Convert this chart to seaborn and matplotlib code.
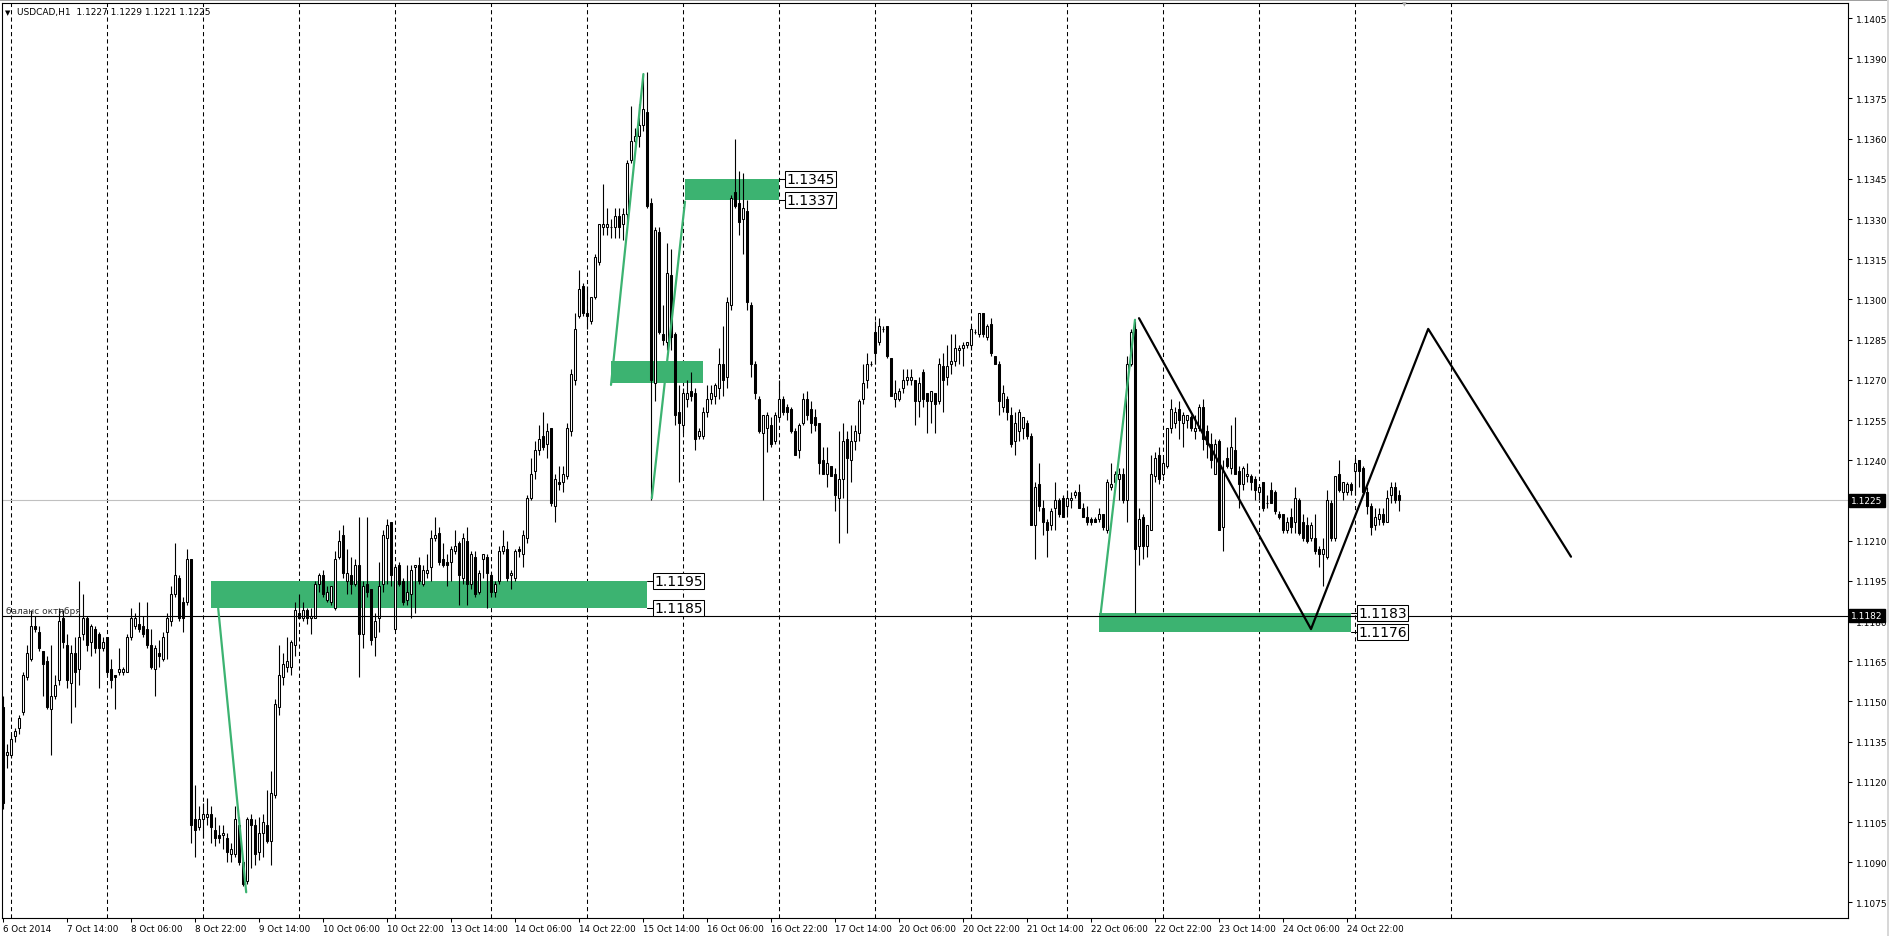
import numpy as np
import matplotlib
matplotlib.use("Agg")
import matplotlib.pyplot as plt
from matplotlib.patches import Rectangle
import seaborn as sns

# USDCAD H1 candles, prices in pips above 1.1000 (bar 0 = 6 Oct 22:00)
opens = [
    148, 130, 130, 137, 140, 146, 159, 166, 178, 176,
    169, 165, 147, 152, 158, 181, 171, 157, 168, 162,
    175, 181, 172, 177, 175, 170, 174, 162, 160, 161,
    161, 161, 174, 178, 179, 178, 177, 171, 162, 168,
    166, 176, 180, 190, 196, 187, 187, 203, 106, 103,
    106, 107, 108, 102, 100, 100, 99, 93, 93, 104,
    90, 83, 106, 104, 94, 101, 104, 98, 115, 148,
    159, 163, 163, 171, 183, 181, 184, 181, 181, 194,
    197, 188, 187, 185, 204, 212, 195, 197, 194, 201,
    175, 194, 192, 174, 181, 194, 211, 217, 177, 201,
    195, 188, 190, 200, 201, 194, 198, 200, 211, 213,
    203, 202, 202, 206, 209, 196, 210, 194, 204, 191,
    203, 204, 197, 191, 195, 206, 207, 197, 196, 207,
    205, 211, 226, 236, 244, 249, 246, 252, 223, 232,
    232, 234, 251, 270, 294, 305, 295, 292, 301, 314,
    327, 327, 327, 327, 331, 328, 332, 352, 359, 361,
    365, 370, 336, 269, 325, 287, 284, 309, 287, 258,
    253, 263, 266, 265, 249, 249, 258, 263, 264, 267,
    276, 271, 298, 340, 336, 330, 333, 298, 276, 263,
    250, 252, 253, 247, 256, 263, 260, 259, 251, 244,
    254, 263, 259, 256, 254, 240, 235, 238, 235, 226,
    233, 248, 240, 247, 250, 263, 270, 276, 288, 284,
    289, 290, 278, 263, 263, 267, 270, 270, 270, 262,
    273, 265, 262, 265, 262, 275, 271, 276, 277, 281,
    282, 283, 283, 288, 287, 295, 286, 291, 279, 276,
    260, 263, 257, 247, 251, 252, 254, 249, 216, 231,
    222, 217, 216, 222, 225, 226, 223, 225, 227, 228,
    222, 219, 218, 218, 218, 220, 214, 230, 232, 233,
    235, 225, 276, 289, 208, 219, 208, 214, 234, 242,
    235, 238, 252, 254, 259, 254, 255, 256, 251, 252,
    260, 251, 246, 235, 247, 215, 241, 237, 244, 236,
    231, 234, 234, 233, 228, 232, 224, 229, 228, 220,
    220, 214, 219, 217, 225, 217, 216, 211, 211, 207,
    205, 204, 224, 211, 235, 228, 228, 231, 236, 240,
    237, 228, 223, 216, 218, 220, 217, 227, 230, 227,
]
highs = [
    152, 134, 138, 140, 145, 161, 171, 184, 182, 178,
    169, 167, 171, 160, 185, 184, 175, 171, 174, 195,
    190, 182, 179, 178, 176, 174, 174, 166, 160, 170,
    163, 175, 185, 183, 187, 182, 187, 177, 171, 173,
    176, 183, 193, 209, 197, 189, 207, 203, 119, 111,
    112, 114, 111, 107, 104, 104, 101, 97, 111, 107,
    91, 107, 108, 106, 107, 108, 117, 124, 151, 171,
    168, 174, 173, 187, 190, 187, 185, 185, 195, 198,
    199, 193, 193, 206, 214, 216, 207, 204, 203, 219,
    195, 219, 192, 183, 202, 214, 218, 217, 201, 202,
    196, 201, 201, 201, 204, 201, 205, 214, 219, 215,
    209, 205, 208, 214, 210, 213, 215, 206, 206, 199,
    205, 205, 198, 195, 208, 214, 210, 199, 207, 208,
    214, 227, 241, 247, 253, 258, 254, 252, 235, 238,
    238, 254, 274, 295, 311, 306, 305, 301, 317, 328,
    343, 334, 330, 334, 334, 334, 352, 372, 364, 373,
    384, 385, 338, 327, 327, 298, 321, 319, 288, 268,
    267, 270, 273, 267, 252, 260, 268, 268, 269, 282,
    290, 301, 339, 360, 348, 347, 337, 299, 277, 264,
    257, 258, 256, 258, 270, 264, 261, 260, 252, 254,
    265, 266, 262, 259, 254, 245, 245, 238, 237, 251,
    254, 251, 253, 253, 263, 276, 280, 277, 292, 293,
    290, 290, 278, 270, 267, 274, 274, 274, 270, 271,
    274, 265, 266, 265, 278, 280, 283, 287, 287, 283,
    284, 284, 290, 289, 295, 295, 291, 293, 279, 277,
    268, 264, 260, 258, 259, 256, 255, 250, 232, 239,
    225, 218, 222, 232, 226, 227, 229, 228, 229, 231,
    224, 223, 219, 219, 222, 220, 233, 239, 236, 237,
    237, 279, 289, 292, 222, 220, 216, 242, 243, 245,
    241, 252, 263, 260, 262, 258, 257, 257, 257, 261,
    263, 253, 250, 248, 248, 240, 245, 253, 256, 238,
    238, 239, 235, 234, 231, 232, 227, 232, 229, 221,
    220, 219, 222, 230, 226, 220, 219, 217, 220, 208,
    211, 229, 225, 234, 240, 232, 232, 232, 241, 240,
    238, 230, 224, 222, 222, 222, 229, 232, 232, 229,
]
lows = [
    110, 125, 129, 135, 138, 145, 158, 165, 176, 169,
    152, 147, 130, 151, 156, 170, 155, 142, 148, 156,
    173, 169, 167, 168, 155, 169, 160, 155, 147, 160,
    160, 161, 173, 177, 176, 174, 170, 162, 152, 163,
    165, 166, 178, 189, 180, 176, 186, 97, 92, 102,
    99, 104, 97, 96, 97, 95, 90, 90, 92, 89,
    81, 82, 88, 89, 91, 92, 97, 89, 114, 145,
    156, 161, 160, 167, 181, 180, 179, 175, 181, 191,
    189, 187, 186, 184, 203, 196, 190, 190, 193, 159,
    170, 189, 171, 167, 176, 191, 194, 193, 177, 193,
    186, 186, 181, 183, 194, 193, 196, 195, 210, 201,
    200, 193, 195, 205, 186, 194, 186, 192, 189, 190,
    196, 185, 189, 189, 194, 205, 195, 192, 195, 204,
    200, 209, 225, 233, 242, 244, 241, 223, 217, 229,
    228, 233, 249, 268, 293, 294, 289, 291, 300, 313,
    324, 324, 323, 323, 323, 322, 329, 351, 357, 357,
    363, 334, 225, 262, 287, 283, 281, 281, 253, 232,
    250, 260, 262, 244, 248, 248, 256, 261, 261, 263,
    264, 267, 296, 334, 324, 317, 296, 271, 263, 250,
    225, 243, 245, 246, 255, 257, 255, 250, 242, 241,
    253, 255, 250, 251, 235, 235, 230, 234, 221, 209,
    226, 213, 232, 244, 247, 261, 267, 275, 276, 283,
    288, 278, 264, 260, 262, 265, 268, 268, 253, 256,
    260, 250, 254, 250, 261, 258, 268, 272, 275, 276,
    275, 282, 281, 287, 286, 286, 285, 279, 276, 257,
    258, 255, 245, 242, 247, 248, 248, 216, 203, 221,
    212, 204, 214, 214, 219, 219, 220, 222, 226, 222,
    219, 216, 216, 217, 217, 214, 213, 229, 230, 225,
    224, 217, 275, 183, 201, 203, 204, 214, 232, 231,
    234, 237, 250, 252, 248, 245, 252, 251, 248, 251,
    244, 241, 237, 235, 214, 206, 237, 235, 235, 222,
    229, 232, 229, 225, 225, 221, 222, 224, 220, 218,
    213, 213, 213, 213, 212, 210, 209, 210, 205, 200,
    193, 203, 210, 210, 228, 225, 227, 227, 227, 230,
    227, 220, 212, 214, 216, 216, 217, 224, 224, 221,
]
closes = [
    112, 131, 136, 139, 144, 160, 168, 178, 177, 170,
    164, 148, 152, 156, 180, 172, 158, 168, 161, 174,
    181, 171, 178, 170, 170, 172, 161, 158, 159, 162,
    162, 174, 181, 181, 177, 175, 171, 163, 170, 167,
    174, 181, 190, 197, 181, 181, 203, 104, 102, 106,
    108, 108, 103, 99, 99, 101, 94, 95, 106, 90,
    82, 106, 104, 93, 101, 105, 98, 116, 149, 160,
    164, 165, 172, 184, 181, 184, 181, 182, 194, 197,
    190, 191, 193, 203, 210, 198, 198, 194, 201, 175,
    193, 191, 173, 180, 193, 212, 216, 197, 200, 194,
    187, 191, 199, 201, 195, 199, 199, 211, 212, 202,
    201, 201, 207, 208, 197, 211, 194, 205, 190, 198,
    205, 198, 191, 194, 206, 208, 196, 198, 206, 206,
    212, 226, 235, 244, 248, 245, 251, 224, 233, 231,
    235, 252, 272, 289, 304, 295, 294, 301, 316, 328,
    328, 328, 327, 331, 327, 332, 351, 359, 361, 365,
    371, 335, 270, 326, 288, 285, 310, 286, 257, 254,
    265, 265, 264, 248, 251, 258, 263, 265, 268, 276,
    270, 299, 338, 335, 329, 334, 299, 276, 265, 251,
    257, 257, 246, 257, 263, 258, 258, 251, 242, 253,
    263, 257, 254, 253, 239, 235, 239, 234, 227, 233,
    247, 241, 247, 251, 262, 269, 276, 276, 280, 290,
    289, 279, 264, 265, 266, 270, 271, 271, 262, 269,
    263, 262, 266, 261, 276, 270, 275, 277, 282, 282,
    283, 284, 289, 288, 295, 287, 290, 280, 276, 262,
    265, 258, 246, 254, 258, 256, 249, 216, 230, 223,
    217, 214, 221, 225, 220, 219, 226, 226, 228, 222,
    219, 217, 217, 217, 220, 215, 232, 231, 235, 235,
    225, 276, 288, 207, 218, 208, 216, 235, 241, 233,
    239, 252, 259, 258, 255, 257, 257, 252, 252, 260,
    248, 246, 240, 246, 214, 236, 238, 245, 235, 231,
    237, 235, 232, 229, 230, 222, 224, 224, 221, 219,
    214, 217, 215, 226, 213, 211, 210, 216, 206, 205,
    207, 225, 211, 234, 229, 232, 231, 229, 239, 236,
    228, 223, 215, 219, 220, 217, 226, 230, 225, 225,
]

# first bar of each trading day (period separators)
day_start_bars = [2, 26, 50, 74, 98, 122, 146, 170, 194, 218, 242, 266, 290, 314, 338, 362]

xtick_bars = [0, 16, 32, 48, 64, 80, 96, 112, 128, 144, 160, 176, 192, 208, 224,
              240, 256, 272, 288, 304, 320, 336]
xtick_labels = ["6 Oct 2014", "7 Oct 14:00", "8 Oct 06:00", "8 Oct 22:00", "9 Oct 14:00",
                "10 Oct 06:00", "10 Oct 22:00", "13 Oct 14:00", "14 Oct 06:00", "14 Oct 22:00",
                "15 Oct 14:00", "16 Oct 06:00", "16 Oct 22:00", "17 Oct 14:00", "20 Oct 06:00",
                "20 Oct 22:00", "21 Oct 14:00", "22 Oct 06:00", "22 Oct 22:00", "23 Oct 14:00",
                "24 Oct 06:00", "24 Oct 22:00"]

ytick_vals = [1.1075, 1.1090, 1.1105, 1.1120, 1.1135, 1.1150, 1.1165, 1.1180, 1.1195,
              1.1210, 1.1225, 1.1240, 1.1255, 1.1270, 1.1285, 1.1300, 1.1315, 1.1330,
              1.1345, 1.1360, 1.1375, 1.1390, 1.1405]

bid_price = 1.1225
balance_price = 1.1182
balance_label = "баланс октября"

# zones (rectangles)
zone_start = [52, 152, 170.5, 274]
zone_end = [161, 175, 194, 337]
zone_low = [1.1185, 1.1269, 1.1337, 1.1176]
zone_high = [1.1195, 1.1277, 1.1345, 1.1183]
zone_tagged = [True, False, True, True]

# green trend lines
green_x = [[53.8, 60.8], [152, 160.1], [162.2, 170.5], [274.4, 283]]
green_y = [[1.11847, 1.10788], [1.12681, 1.13841], [1.12258, 1.13365], [1.11826, 1.12924]]

# black projected zigzag
zig_x = [284, 327, 356.3, 392]
zig_y = [1.1293, 1.1177, 1.1289, 1.1204]

header = "USDCAD,H1  1.1227 1.1229 1.1221 1.1225"

GREEN = "#3CB371"

sns.set_style("white")
plt.rcParams['font.family'] = ['DejaVu Sans']
plt.rcParams['text.color'] = 'black'
plt.rcParams['axes.edgecolor'] = 'black'
plt.rcParams['xtick.color'] = 'black'
plt.rcParams['ytick.color'] = 'black'

W, H = 1890, 937
fig = plt.figure(figsize=(W / 100, H / 100), dpi=100)
ax = fig.add_axes([2 / W, 18 / H, 1846 / W, 915 / H])

o = 1.1 + np.array(opens) / 1e4
h = 1.1 + np.array(highs) / 1e4
l = 1.1 + np.array(lows) / 1e4
c = 1.1 + np.array(closes) / 1e4
x = np.arange(len(o))

# separators and horizontal lines
for b in day_start_bars:
    ax.axvline(b, color='black', lw=0.75, ls=(0, (4, 3)), zorder=1)
ax.axhline(bid_price, color='#C0C0C0', lw=0.8, zorder=1)

# zones behind the candles
for s, e, lo, hi in zip(zone_start, zone_end, zone_low, zone_high):
    ax.add_patch(Rectangle((s, lo), e - s, hi - lo, facecolor=GREEN, edgecolor='none', zorder=2))

# candles
ax.vlines(x, l, h, color='black', lw=0.8, zorder=3)
up = c >= o
ax.bar(x[up], (c - o)[up], bottom=o[up], width=0.6, color='white', edgecolor='black',
       linewidth=0.75, zorder=4)
ax.bar(x[~up], (o - c)[~up], bottom=c[~up], width=0.6, color='black', edgecolor='black',
       linewidth=0.75, zorder=4)

ax.axhline(balance_price, color='black', lw=0.8, zorder=5)
ax.text(0.8, balance_price + 0.00004, balance_label, fontsize=6.5, color='#333333',
        va='bottom', ha='left', zorder=6)

# trend lines
for gx, gy in zip(green_x, green_y):
    sns.lineplot(x=gx, y=gy, ax=ax, color=GREEN, linewidth=1.6, sort=False,
                 estimator=None, zorder=6)
sns.lineplot(x=zig_x, y=zig_y, ax=ax, color='black', linewidth=1.6, sort=False,
             estimator=None, zorder=6)

# price tags on the zones
for e, lo, hi, tag in zip(zone_end, zone_low, zone_high, zone_tagged):
    if not tag:
        continue
    for p in (hi, lo):
        ax.plot([e, e + 1.8], [p, p], color='black', lw=0.75, zorder=6)
        ax.text(e + 1.8, p, f"{p:.4f}", fontsize=10, va='center', ha='left', zorder=7,
                bbox=dict(boxstyle='square,pad=0.08', fc='white', ec='black', lw=0.75))

ax.set_xlim(-0.25, 461.25)
ax.set_ylim(1.10692, 1.14106)
ax.set_xlabel('')
ax.set_ylabel('')

ax.set_xticks(xtick_bars)
ax.set_xticklabels(xtick_labels, ha='left')
ax.set_yticks(ytick_vals)
# the 1.1225 scale label is hidden under the bid box, as on the terminal
ax.set_yticklabels(["" if abs(v - bid_price) < 1e-9 else f"{v:.4f}" for v in ytick_vals])
ax.yaxis.tick_right()
ax.tick_params(axis='x', bottom=True, top=False, length=3, width=0.75, pad=1.5,
               labelsize=6.3, direction='out')
ax.tick_params(axis='y', right=True, left=False, labelright=True, labelleft=False,
               length=3, width=0.75, pad=3, labelsize=6.5, direction='out')
for sp in ax.spines.values():
    sp.set_color('black')
    sp.set_linewidth(0.8)

# highlighted prices on the scale
ytr = ax.get_yaxis_transform()
for p in (bid_price, balance_price):
    ax.text(1 + 3 / 1846, p, f"{p:.4f}", transform=ytr, fontsize=6.5, color='white',
            va='center', ha='left', zorder=10, clip_on=False,
            bbox=dict(boxstyle='square,pad=0.25', fc='black', ec='black'))

# header and window chrome
fig.text(5 / W, 1 - 13 / H, "▼", fontsize=5, va='center', ha='left')
fig.text(17 / W, 1 - 13 / H, header, fontsize=6.5, va='center', ha='left')
fig.text(1404 / W, 1 - 5 / H, "▼", fontsize=4.5, color='#A8A8A8', va='center', ha='center')
fig.add_artist(Rectangle((0, 1 - 2 / H), 1, 2 / H, transform=fig.transFigure,
                         color='#A0A0A0', lw=0))
fig.add_artist(Rectangle((1 - 3 / W, 0), 3 / W, 1, transform=fig.transFigure,
                         color='#D8D8D8', lw=0))

fig.savefig("out.png", dpi=100)
